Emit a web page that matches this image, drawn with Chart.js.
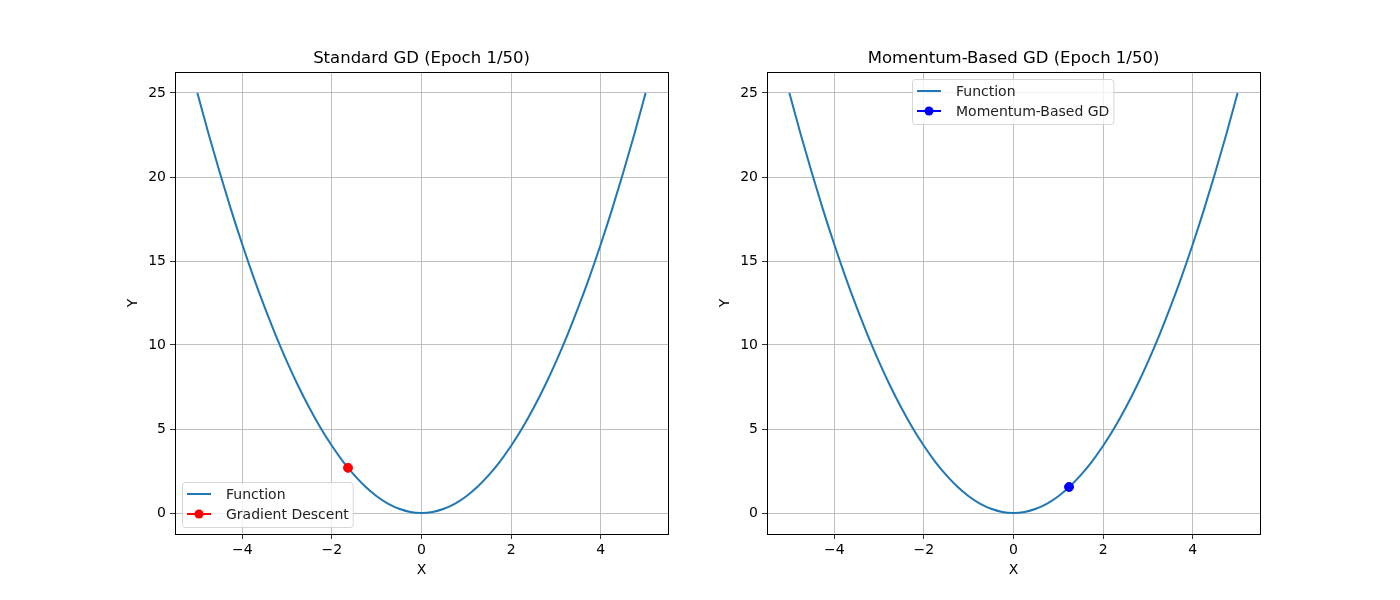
<!DOCTYPE html>
<html>
<head>
<meta charset="utf-8">
<script src="https://cdn.jsdelivr.net/npm/chart.js@4"></script>
<style>
  body { margin: 0; background: #fff; }
  .wrap { position: absolute; top: 0; width: 700px; height: 600px; }
</style>
</head>
<body>
<div class="wrap" style="left:0"><canvas id="left"></canvas></div>
<div class="wrap" style="left:700px"><canvas id="right"></canvas></div>
<script>
// curve samples
const curveX = [-5, -4.75, -4.5, -4.25, -4, -3.75, -3.5, -3.25, -3, -2.75, -2.5, -2.25, -2, -1.75, -1.5, -1.25, -1, -0.75, -0.5, -0.25,
  0, 0.25, 0.5, 0.75, 1, 1.25, 1.5, 1.75, 2, 2.25, 2.5, 2.75, 3, 3.25, 3.5, 3.75, 4, 4.25, 4.5, 4.75, 5];
const curveY = [25, 22.56, 20.25, 18.06, 16, 14.06, 12.25, 10.56, 9, 7.56, 6.25, 5.06, 4, 3.06, 2.25, 1.56, 1, 0.56, 0.25, 0.06,
  0, 0.06, 0.25, 0.56, 1, 1.56, 2.25, 3.06, 4, 5.06, 6.25, 7.56, 9, 10.56, 12.25, 14.06, 16, 18.06, 20.25, 22.56, 25];

const gdPoint = [-1.64, 2.69];
const momentumPoint = [1.24, 1.55];

const xTicks = [-4, -2, 0, 2, 4];
const yTicks = [0, 5, 10, 15, 20, 25];

const FONT = "'DejaVu Sans', sans-serif";
const fmt = (v) => (v < 0 ? "\u2212" + Math.abs(v) : String(v));

const framePlugin = {
  id: "frame",
  afterDraw(chart, args, opts) {
    const { ctx, chartArea: a } = chart;
    ctx.save();
    ctx.strokeStyle = "#000";
    ctx.lineWidth = 1;
    ctx.strokeRect(Math.round(a.left) + 0.5, Math.round(a.top) + 0.5,
      Math.round(a.right - a.left), Math.round(a.bottom - a.top));

    // legend box
    const lg = opts.legend;
    ctx.font = "14px " + FONT;
    let tw = 0;
    lg.items.forEach((it) => { tw = Math.max(tw, ctx.measureText(it.text).width); });
    const w = 44 + tw + 4, h = 45;
    ctx.globalAlpha = 0.8;
    ctx.fillStyle = "#fff";
    ctx.strokeStyle = "#cccccc";
    ctx.beginPath();
    ctx.roundRect(lg.x + 0.5, lg.y + 0.5, w, h, 3);
    ctx.fill();
    ctx.stroke();
    ctx.globalAlpha = 1;
    lg.items.forEach((it, i) => {
      const yy = lg.y + 12 + i * 20;
      ctx.strokeStyle = it.color;
      ctx.lineWidth = 2;
      ctx.beginPath();
      ctx.moveTo(lg.x + 5, yy);
      ctx.lineTo(lg.x + 29, yy);
      ctx.stroke();
      if (it.marker) {
        ctx.fillStyle = it.color;
        ctx.beginPath();
        ctx.arc(lg.x + 17, yy, 4.5, 0, Math.PI * 2);
        ctx.fill();
      }
      ctx.fillStyle = "#222";
      ctx.textBaseline = "middle";
      ctx.textAlign = "left";
      ctx.fillText(it.text, lg.x + 44, yy + 1);
    });

    // title
    ctx.fillStyle = "#000";
    ctx.font = "16.5px " + FONT;
    ctx.textAlign = "center";
    ctx.textBaseline = "middle";
    ctx.fillText(opts.title, (a.left + a.right) / 2, a.top - 13);
    ctx.restore();
  }
};

function makeChart(id, point, color, pad, title, legend) {
  const curve = curveX.map((x, i) => ({ x: x, y: curveY[i] }));
  return new Chart(document.getElementById(id), {
    type: "scatter",
    data: {
      datasets: [
        {
          label: "Function",
          data: curve,
          showLine: true,
          borderColor: "#1f77b4",
          borderWidth: 2,
          pointRadius: 0,
          cubicInterpolationMode: "monotone",
          order: 1
        },
        {
          label: legend.items[1].text,
          data: [{ x: point[0], y: point[1] }],
          backgroundColor: color,
          borderColor: color,
          pointRadius: 4.5,
          order: 0
        }
      ]
    },
    options: {
      responsive: false,
      animation: false,
      layout: { padding: pad },
      plugins: {
        legend: { display: false },
        tooltip: { enabled: false },
        frame: { title: title, legend: legend }
      },
      scales: {
        x: {
          type: "linear",
          min: -5.5,
          max: 5.5,
          afterBuildTicks: (s) => { s.ticks = xTicks.map((v) => ({ value: v })); },
          afterFit: (s) => { s.height = 45; },
          grid: { color: "#b0b0b0", lineWidth: 0.8, tickColor: "#000", tickLength: 5 },
          border: { display: false },
          ticks: { color: "#000", font: { family: FONT, size: 14 }, padding: 3, maxRotation: 0, callback: fmt },
          title: { display: true, text: "X", color: "#000", font: { family: FONT, size: 14 }, padding: 0 }
        },
        y: {
          type: "linear",
          min: -1.25,
          max: 26.25,
          afterBuildTicks: (s) => { s.ticks = yTicks.map((v) => ({ value: v })); },
          afterFit: (s) => { s.width = 50; },
          grid: { color: "#b0b0b0", lineWidth: 0.8, tickColor: "#000", tickLength: 5 },
          border: { display: false },
          ticks: { color: "#000", font: { family: FONT, size: 14 }, padding: 4, callback: fmt },
          title: { display: true, text: "Y", color: "#000", font: { family: FONT, size: 14 }, padding: 0 }
        }
      }
    },
    plugins: [framePlugin]
  });
}

["left", "right"].forEach((id) => {
  const c = document.getElementById(id);
  c.width = 700;
  c.height = 600;
});

makeChart("left", gdPoint, "#ff0000", { left: 125, right: 32, top: 72, bottom: 21 },
  "Standard GD (Epoch 1/50)",
  { x: 182, y: 482, items: [{ text: "Function", color: "#1f77b4" }, { text: "Gradient Descent", color: "#ff0000", marker: true }] });

makeChart("right", momentumPoint, "#0000ff", { left: 17, right: 140, top: 72, bottom: 21 },
  "Momentum-Based GD (Epoch 1/50)",
  { x: 212, y: 79, items: [{ text: "Function", color: "#1f77b4" }, { text: "Momentum-Based GD", color: "#0000ff", marker: true }] });
</script>
</body>
</html>
